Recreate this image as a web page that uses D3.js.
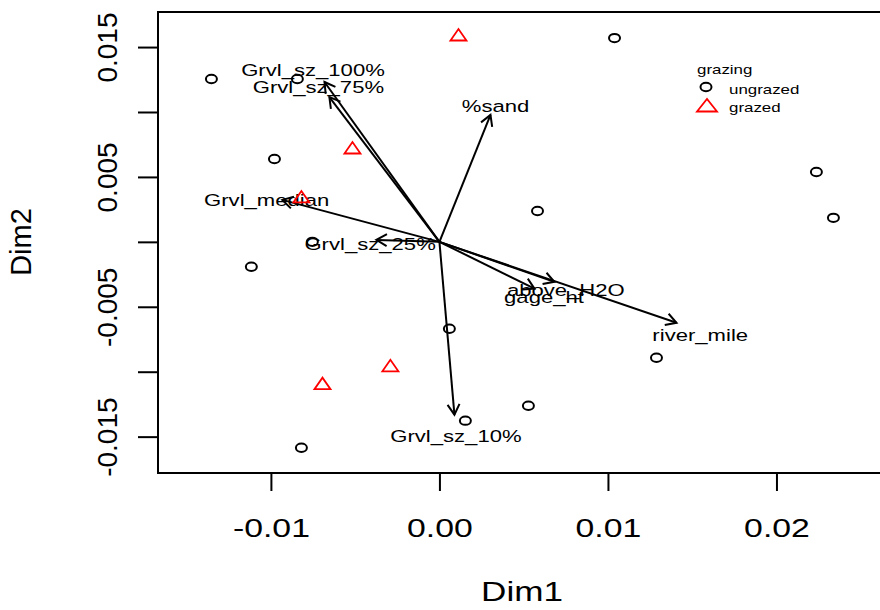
<!DOCTYPE html>
<html>
<head>
<meta charset="utf-8">
<script src="https://cdn.jsdelivr.net/npm/d3@7"></script>
<style>
  body { margin: 0; background: #fff; }
  svg { display: block; font-family: "Liberation Sans", Arial, sans-serif; }
</style>
</head>
<body>
<div id="wrapper"></div>
<script>
// site scores, split by grazing group
const ungrazedDim1 = [-0.01353, -0.00843, 0.01039, -0.00979, 0.02237, 0.02338, 0.00582, -0.00754, -0.01116, 0.00059, 0.01288, 0.00528, 0.00154, -0.00819];
const ungrazedDim2 = [0.01254, 0.01254, 0.01569, 0.00638, 0.00538, 0.00185, 0.00238, 0.00000, -0.00192, -0.00669, -0.00892, -0.01262, -0.01377, -0.01585];
const grazedDim1 = [0.00113, -0.00516, -0.00819, -0.00291, -0.00694];
const grazedDim2 = [0.01585, 0.00715, 0.00338, -0.00962, -0.01100];

// fitted environmental vectors
const vectorNames = ["Grvl_sz_100%", "Grvl_sz_75%", "%sand", "Grvl_median", "Grvl_sz_25%", "above_H2O", "gage_ht", "river_mile", "Grvl_sz_10%"];
const vectorDim1 = [-0.00682, -0.00653, 0.00303, -0.00932, -0.00374, 0.00682, 0.00564, 0.01407, 0.00089];
const vectorDim2 = [0.01231, 0.01115, 0.00977, 0.00323, 0.00015, -0.00308, -0.00360, -0.00623, -0.01331];

const xTicks = [-0.01, 0.00, 0.01, 0.02];
const yTicks = [-0.015, -0.01, -0.005, 0, 0.005, 0.01, 0.015];
const yLabelled = [-0.015, -0.005, 0.005, 0.015];

const legendTitle = "grazing";
const groups = ["ungrazed", "grazed"];

function buildPlot() {
    const dimension = {
        width: 880,
        height: 610,
        margin: { top: 12, left: 158, bottom: 137, right: -6 }
    };
    dimension.boundedWidth = dimension.width - dimension.margin.left - dimension.margin.right;
    dimension.boundedHeight = dimension.height - dimension.margin.top - dimension.margin.bottom;

    const stretch = 1.3; // horizontal text stretch of the original device

    const svg = d3.select("#wrapper").append("svg")
        .attr("width", dimension.width)
        .attr("height", dimension.height);

    const xScaler = d3.scaleLinear()
        .domain([-0.0167, 0.0265])
        .range([dimension.margin.left, dimension.margin.left + dimension.boundedWidth]);
    const yScaler = d3.scaleLinear()
        .domain([-0.0178, 0.0177])
        .range([dimension.margin.top + dimension.boundedHeight, dimension.margin.top]);

    // axes
    const xAxisGenerator = d3.axisBottom(xScaler)
        .tickValues(xTicks)
        .tickSize(18)
        .tickFormat(d => d.toFixed(2));
    const xAxis = svg.append("g")
        .attr("transform", `translate(0,${dimension.margin.top + dimension.boundedHeight})`)
        .call(xAxisGenerator);
    xAxis.select(".domain").remove();
    xAxis.selectAll("line").attr("stroke", "#000").attr("stroke-width", 2);
    xAxis.selectAll("text")
        .attr("fill", "#000")
        .attr("font-size", 26)
        .attr("font-family", "Liberation Sans, Arial, sans-serif")
        .attr("y", 0).attr("dy", 0)
        .attr("dominant-baseline", "central")
        .attr("transform", `translate(0,55) scale(${stretch},1)`);

    const yAxisGenerator = d3.axisLeft(yScaler)
        .tickValues(yTicks)
        .tickSize(20)
        .tickFormat(d => yLabelled.some(v => Math.abs(v - d) < 1e-9) ? d.toFixed(3) : "");
    const yAxis = svg.append("g")
        .attr("transform", `translate(${dimension.margin.left},0)`)
        .call(yAxisGenerator);
    yAxis.select(".domain").remove();
    yAxis.selectAll("line").attr("stroke", "#000").attr("stroke-width", 2);
    yAxis.selectAll("text")
        .attr("fill", "#000")
        .attr("font-size", 28)
        .attr("font-family", "Liberation Sans, Arial, sans-serif")
        .attr("x", 0).attr("dy", 0)
        .attr("text-anchor", "middle")
        .attr("dominant-baseline", "central")
        .attr("transform", "translate(-51,0) rotate(-90)");

    // frame
    svg.append("rect")
        .attr("x", dimension.margin.left)
        .attr("y", dimension.margin.top)
        .attr("width", dimension.boundedWidth)
        .attr("height", dimension.boundedHeight)
        .attr("fill", "none")
        .attr("stroke", "#000")
        .attr("stroke-width", 2);

    // axis titles
    svg.append("text")
        .attr("text-anchor", "middle")
        .attr("dominant-baseline", "central")
        .attr("font-size", 27)
        .attr("transform", `translate(522,592) scale(${stretch},1)`)
        .text("Dim1");
    svg.append("text")
        .attr("text-anchor", "middle")
        .attr("dominant-baseline", "central")
        .attr("font-size", 29)
        .attr("transform", "translate(21,242) rotate(-90)")
        .text("Dim2");

    // vectors
    const ox = xScaler(0), oy = yScaler(0);
    const headLen = 12, headAng = Math.PI / 6;
    const vecs = vectorNames.map((n, i) => ({ name: n, x: vectorDim1[i], y: vectorDim2[i] }));
    const arrows = svg.append("g").attr("stroke", "#000").attr("stroke-width", 2).attr("fill", "none");
    vecs.forEach(v => {
        const tx = xScaler(v.x), ty = yScaler(v.y);
        const a = Math.atan2(ty - oy, tx - ox);
        arrows.append("line")
            .attr("x1", ox).attr("y1", oy)
            .attr("x2", tx).attr("y2", ty);
        const p = d3.path();
        p.moveTo(tx - headLen * Math.cos(a - headAng), ty - headLen * Math.sin(a - headAng));
        p.lineTo(tx, ty);
        p.lineTo(tx - headLen * Math.cos(a + headAng), ty - headLen * Math.sin(a + headAng));
        arrows.append("path").attr("d", p.toString());
    });
    svg.append("g").selectAll("text")
        .data(vecs)
        .join("text")
        .attr("text-anchor", "middle")
        .attr("dominant-baseline", "central")
        .attr("font-size", 17)
        .attr("y", 4)
        .attr("transform", d => `translate(${xScaler(d.x * 1.1)},${yScaler(d.y * 1.1)}) scale(${stretch},1)`)
        .text(d => d.name);

    // points
    const trianglePath = "M-8,4.5L8,4.5L0,-7Z";
    svg.append("g").selectAll("ellipse")
        .data(d3.range(ungrazedDim1.length))
        .join("ellipse")
        .attr("cx", i => xScaler(ungrazedDim1[i]))
        .attr("cy", i => yScaler(ungrazedDim2[i]))
        .attr("rx", 5.5).attr("ry", 4.2)
        .attr("fill", "none")
        .attr("stroke", "#000")
        .attr("stroke-width", 2);
    svg.append("g").selectAll("path")
        .data(d3.range(grazedDim1.length))
        .join("path")
        .attr("transform", i => `translate(${xScaler(grazedDim1[i])},${yScaler(grazedDim2[i])})`)
        .attr("d", trianglePath)
        .attr("fill", "none")
        .attr("stroke", "#ff0000")
        .attr("stroke-width", 1.8);

    // legend
    const legend = svg.append("g").attr("transform", "translate(697,69)");
    legend.append("text")
        .attr("dominant-baseline", "central")
        .attr("font-size", 13)
        .attr("transform", `scale(${stretch},1)`)
        .text(legendTitle);
    groups.forEach((g, i) => {
        const row = legend.append("g").attr("transform", `translate(0,${18 + i * 18})`);
        if (i === 0) {
            row.append("ellipse").attr("cx", 9).attr("cy", 0)
                .attr("rx", 5.5).attr("ry", 4.2)
                .attr("fill", "none").attr("stroke", "#000").attr("stroke-width", 2);
        } else {
            row.append("path").attr("transform", "translate(10,1)")
                .attr("d", "M-10,5.5L10,5.5L0,-7Z")
                .attr("fill", "none").attr("stroke", "#ff0000").attr("stroke-width", 1.8);
        }
        row.append("text")
            .attr("x", 32 / stretch)
            .attr("y", 2)
            .attr("dominant-baseline", "central")
            .attr("font-size", 13)
            .attr("transform", `scale(${stretch},1)`)
            .text(g);
    });
}

buildPlot();
</script>
</body>
</html>
